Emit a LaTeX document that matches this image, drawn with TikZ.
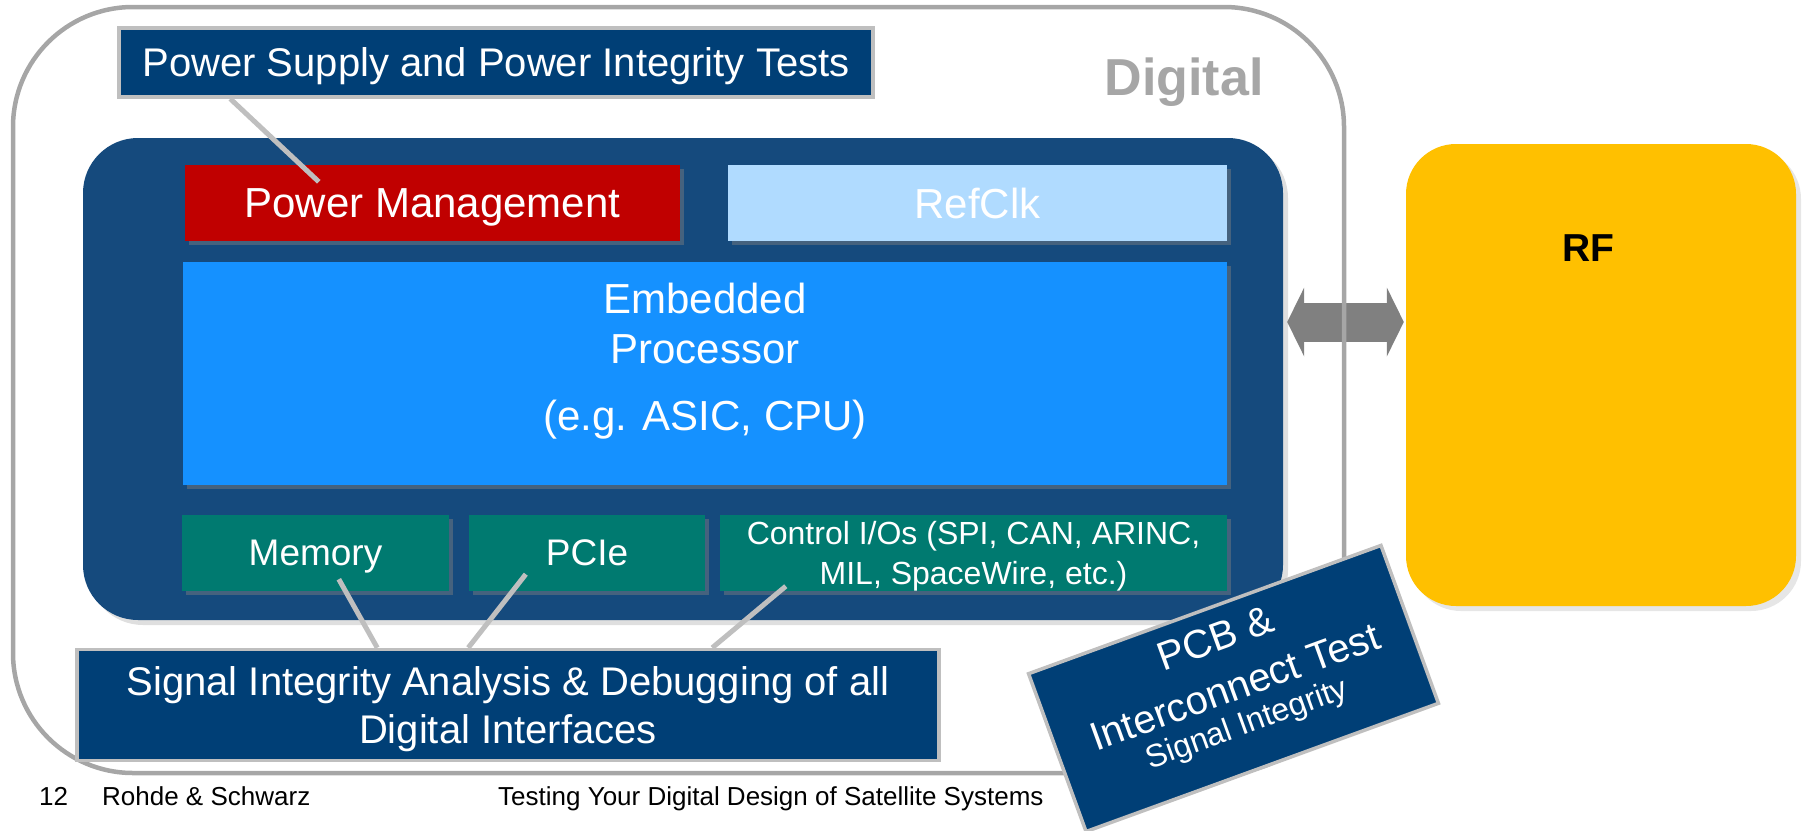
\documentclass[tikz,border=0pt]{standalone}
\usepackage{fontspec}
\setmainfont{Liberation Sans}
\usetikzlibrary{shadows,arrows.meta}

\definecolor{rsnavy}{RGB}{0,63,118}
\definecolor{corebg}{RGB}{21,74,125}
\definecolor{cpublue}{RGB}{21,145,255}
\definecolor{clkblue}{RGB}{176,219,255}
\definecolor{pmred}{RGB}{192,0,0}
\definecolor{ioteal}{RGB}{0,122,112}
\definecolor{rfyellow}{RGB}{255,192,0}
\definecolor{framegray}{RGB}{166,166,166}
\definecolor{calloutgray}{RGB}{191,191,191}
\definecolor{linkgray}{RGB}{128,128,128}

\newcommand{\blockfont}{\fontsize{42pt}{50pt}\selectfont}
\newcommand{\iofont}{\fontsize{37pt}{44pt}\selectfont}
\newcommand{\ctrlfont}{\fontsize{32pt}{40pt}\selectfont}
\newcommand{\calloutfont}{\fontsize{40pt}{48pt}\selectfont}
\newcommand{\pcbfont}{\fontsize{40pt}{47pt}\selectfont}
\newcommand{\sifont}{\fontsize{32pt}{38pt}\selectfont}
\newcommand{\digitalfont}{\fontsize{52pt}{60pt}\selectfont\bfseries}
\newcommand{\rffont}{\fontsize{39pt}{46pt}\selectfont\bfseries}
\newcommand{\footfont}{\fontsize{26pt}{31pt}\selectfont}

\begin{document}
\begin{tikzpicture}[x=1pt, y=-1pt,
  panel/.style={rectangle, inner sep=0pt, text=white, align=center, text depth=0pt,
    drop shadow={opacity=0.45, shadow xshift=4pt, shadow yshift=-4pt}},
  callout/.style={rectangle, inner sep=0pt, fill=rsnavy, draw=calloutgray,
    line width=3.5pt, text=white, align=center, text depth=0pt},
  callout line/.style={calloutgray, line width=5pt},
  tilted/.style={rotate=20, anchor=base, inner sep=0pt, text=white},
  foot/.style={anchor=base west, inner sep=0pt, font=\footfont}]

\useasboundingbox (0,0) rectangle (1804,830);

% digital core and its blocks
\node[fill=corebg, rounded corners=55pt, minimum width=1200pt, minimum height=482pt,
  drop shadow={opacity=0.25, shadow xshift=5pt, shadow yshift=-5pt}] (core) at (683,379) {};
\node[panel, fill=pmred, minimum width=495pt, minimum height=76pt, font=\blockfont] (pm) at (432.5,203) {Power Management};
\node[panel, fill=clkblue, minimum width=499pt, minimum height=76pt, font=\blockfont] (refclk) at (977.5,203) {RefClk};
\node[panel, fill=cpublue, minimum width=1044pt, minimum height=223pt] (cpu) at (705,373.5) {};
\node[align=center, text=white, font=\blockfont] (cpulabel) at (705,361) {Embedded\\Processor\\[17pt](e.g. ASIC, CPU)};
\node[panel, fill=ioteal, minimum width=267pt, minimum height=76pt, font=\iofont] (mem) at (315.5,553) {Memory};
\node[panel, fill=ioteal, minimum width=236pt, minimum height=76pt, font=\iofont] (pcie) at (587,553) {PCIe};
\node[panel, fill=ioteal, minimum width=507pt, minimum height=76pt, font=\ctrlfont] (ctrl) at (973.5,553) {Control I/Os (SPI, CAN, ARINC,\\MIL, SpaceWire, etc.)};

% RF side
\node[fill=rfyellow, rounded corners=50pt, minimum width=390pt, minimum height=462pt,
  drop shadow={opacity=0.2, shadow xshift=5pt, shadow yshift=-5pt}] (rf) at (1601,375) {};
\node[font=\rffont] (rflabel) at (1588,248) {RF};

\draw[linkgray, line width=39pt,
  {Triangle[length=17pt,width=69pt,line width=0pt]}-{Triangle[length=17pt,width=69pt,line width=0pt]}]
  ([xshift=4pt,yshift=57pt]core.east) -- ([xshift=-2pt,yshift=53pt]rf.west);

% digital frame
\node[draw=framegray, line width=4.5pt, rounded corners=120pt, minimum width=1331pt, minimum height=766pt] (digital) at (678.5,390) {};
\node[text=framegray, font=\digitalfont] (digitallabel) at (1184,82) {Digital};

% test callouts
\node[callout, minimum width=754pt, minimum height=69pt, font=\calloutfont] (pstest) at (496,62.5) {Power Supply and Power Integrity Tests};
\draw[callout line] ([xshift=113pt]pstest.south west) -- ([xshift=134pt,yshift=-17pt]pm.north west);

\node[callout, minimum width=862pt, minimum height=111pt, font=\calloutfont] (sigtest) at (508,705) {Signal Integrity Analysis \& Debugging of all\\Digital Interfaces};
\draw[callout line] ([xshift=157pt,yshift=12pt]mem.south west) -- ([xshift=302pt]sigtest.north west);
\draw[callout line] ([xshift=57pt,yshift=17pt]pcie.south west) -- ([xshift=393pt]sigtest.north west);
\draw[callout line] ([xshift=66pt,yshift=5pt]ctrl.south west) -- ([xshift=637pt]sigtest.north west);

\node[callout, rotate=20, minimum width=375pt, minimum height=168pt] (pcbtest) at (1233.5,688.5) {};
\node[tilted, font=\pcbfont] (pcbline) at ([shift={(-13.7,-37.6)}]pcbtest.center) {PCB \&};
\node[tilted, font=\pcbfont] (interline) at ([shift={(6,11)}]pcbtest.center) {Interconnect Test};
\node[tilted, font=\sifont] (siline) at ([shift={(16.5,44.4)}]pcbtest.center) {Signal Integrity};

% footer
\node[foot] (pagenum) at (39,805) {12};
\node[foot] (company) at (102,805) {Rohde \& Schwarz};
\node[foot] (doctitle) at (498,805) {Testing Your Digital Design of Satellite Systems};
\end{tikzpicture}
\end{document}
